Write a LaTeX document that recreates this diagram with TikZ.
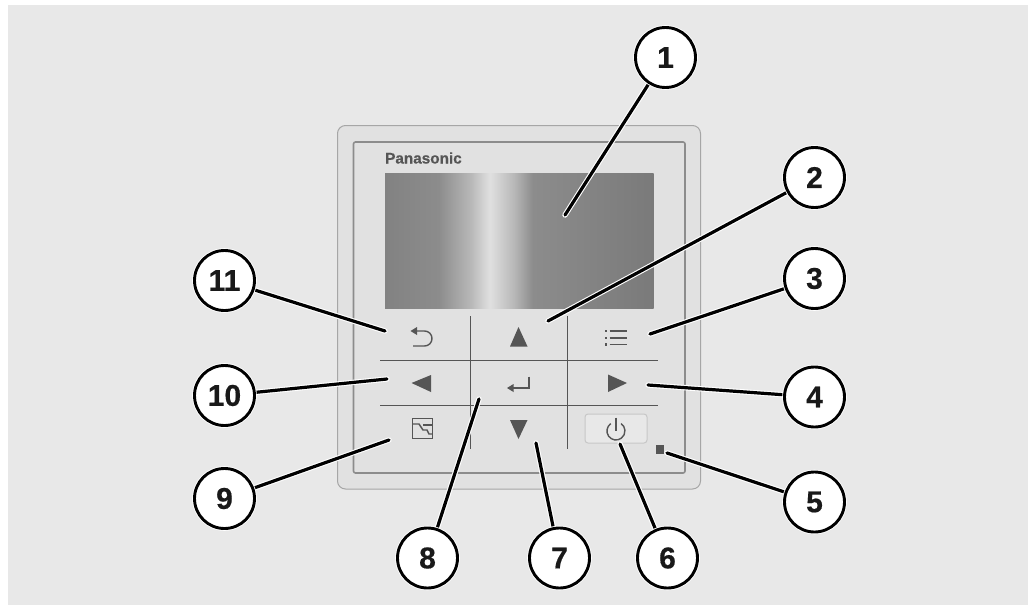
\documentclass[tikz,border=0pt]{standalone}
\usepackage{fontspec}
\usetikzlibrary{backgrounds}
\setmainfont{Liberation Sans}
\newfontfamily\heavyfont[BoldFeatures={FakeBold=0.5}]{Liberation Sans}
\definecolor{lcda}{HTML}{7A7A7A}
\definecolor{lcdb}{HTML}{8C8C8C}
\definecolor{lcdc}{HTML}{B8B8B8}
\definecolor{lcdd}{HTML}{E0E0E0}
\definecolor{lcde}{HTML}{828282}
\pgfdeclarehorizontalshading{lcd}{100bp}{
 color(0bp)=(lcda); color(25bp)=(lcde); color(35bp)=(lcdb); color(41bp)=(lcdc); color(44.5bp)=(lcdd);
 color(49bp)=(lcdc); color(52.5bp)=(lcdb); color(75bp)=(lcda); color(100bp)=(lcda)}
\definecolor{bggrey}{HTML}{E8E8E8}
\definecolor{panel}{HTML}{E1E1E1}
\definecolor{icon}{HTML}{555555}
\tikzset{
 callout/.style={circle,draw=black,line width=2.9pt,fill=white,minimum size=60pt,inner sep=0pt,font=\fontsize{30}{30}\heavyfont\bfseries,text=black!90,
   preaction={draw=white,line width=4.6pt}},
 leaderhalo/.style={draw=white,line width=5.4pt,line cap=round},
 leaderline/.style={draw=black,line width=3.2pt,line cap=round},
 divider/.style={draw=icon,line width=0.9pt},
 glyph/.style={fill=icon,draw=none},
 stroke/.style={draw=icon,line width=1.4pt},
}
\begin{document}
\begin{tikzpicture}[x=1pt,y=-1pt]
\useasboundingbox (0,0) rectangle (1028,605);
% callouts
\node[callout] (c1) at (665.5,57.5) {1};
\node[callout] (c2) at (814.5,177.5) {2};
\node[callout] (c3) at (814.5,278.5) {3};
\node[callout] (c4) at (814.5,397) {4};
\node[callout] (c5) at (814.5,502) {5};
\node[callout] (c6) at (667.5,558) {6};
\node[callout] (c7) at (559.5,558) {7};
\node[callout] (c8) at (427.5,558) {8};
\node[callout] (c9) at (224.5,498.5) {9};
\node[callout] (c10) at (224.5,395.5) {10};
\node[callout] (c11) at (224.5,280.5) {11};
\coordinate (e1) at (565,215);
\coordinate (e2) at (548,321);
\coordinate (e3) at (650,334);
\coordinate (e4) at (648,385);
\coordinate (e5) at (667,453);
\coordinate (e6) at (620,444);
\coordinate (e7) at (536,443);
\coordinate (e8) at (479,399);
\coordinate (e9) at (389,440);
\coordinate (e10) at (387,379);
\coordinate (e11) at (385,331);
\begin{pgfonlayer}{background}
\fill[white] (0,0) rectangle (1028,605);
\fill[bggrey] (8,5) rectangle (1028,605);
% housing
\draw[draw=black!35,fill=panel,line width=1pt,rounded corners=8pt] (337.5,125.5) rectangle (700.5,489);
\draw[draw=black!45,fill=panel,line width=1.6pt,rounded corners=2pt] (353.5,142) rectangle (685,473);
% screen
\shade[shading=lcd] (385,173) rectangle (653.5,308);
\node[anchor=base west,inner sep=0pt,font=\fontsize{15.3}{16}\heavyfont\bfseries,text=icon] (brand) at (385,163.5) {Panasonic};
% dividers
\draw[divider] (470.5,316) -- (470.5,449);
\draw[divider] (567.5,316) -- (567.5,449);
\draw[divider] (380,360.5) -- (658,360.5);
\draw[divider] (380,405.5) -- (658,405.5);
% arrow buttons
\fill[glyph] (518.5,327) -- (527.5,346.5) -- (510,346.5) -- cycle;
\fill[glyph] (518.5,439) -- (527.5,420) -- (510,420) -- cycle;
\fill[glyph] (411.5,383) -- (431,375) -- (431,392) -- cycle;
\fill[glyph] (627,383) -- (608,374.5) -- (608,392) -- cycle;
% back
\draw[stroke] (416,331) -- (424.5,331) arc[start angle=-90,end angle=90,radius=7.5] -- (413,346);
\fill[glyph] (410.5,331) -- (417,327) -- (417,335) -- cycle;
% enter
\draw[stroke] (529,376.5) -- (529,388) -- (512,388);
\fill[glyph] (507,388) -- (513.5,384) -- (513.5,392) -- cycle;
% menu
\foreach \yy in {331,338,344.5}{
 \draw[stroke] (609.5,\yy) -- (627,\yy);
 \fill[glyph] (604.5,\yy-1.2) rectangle (606.9,\yy+1.2);
}
% graph key
\draw[stroke] (412.3,418.5) rectangle (432.5,438.5);
\draw[stroke] (412.3,424) -- (419,424) -- (423,430) -- (427,430) -- (429,434) -- (432.5,434);
\draw[stroke] (423,425) -- (432.5,425);
% power
\draw[draw=black!22,fill=black!9,line width=1pt,rounded corners=3pt] (585,414) rectangle (647,443);
\draw[stroke] (610.8,423.6) arc[start angle=-125,end angle=-415,radius=9];
\draw[stroke] (616,417.5) -- (616,431);
% led
\fill[icon] (655.5,445) rectangle (663.8,454);
% leaders
\foreach \n in {1,...,11}{
 \draw[leaderhalo] (c\n) -- (e\n);
}
\foreach \n in {1,...,11}{
 \draw[leaderline] (c\n) -- (e\n);
}
\end{pgfonlayer}
\end{tikzpicture}
\end{document}
